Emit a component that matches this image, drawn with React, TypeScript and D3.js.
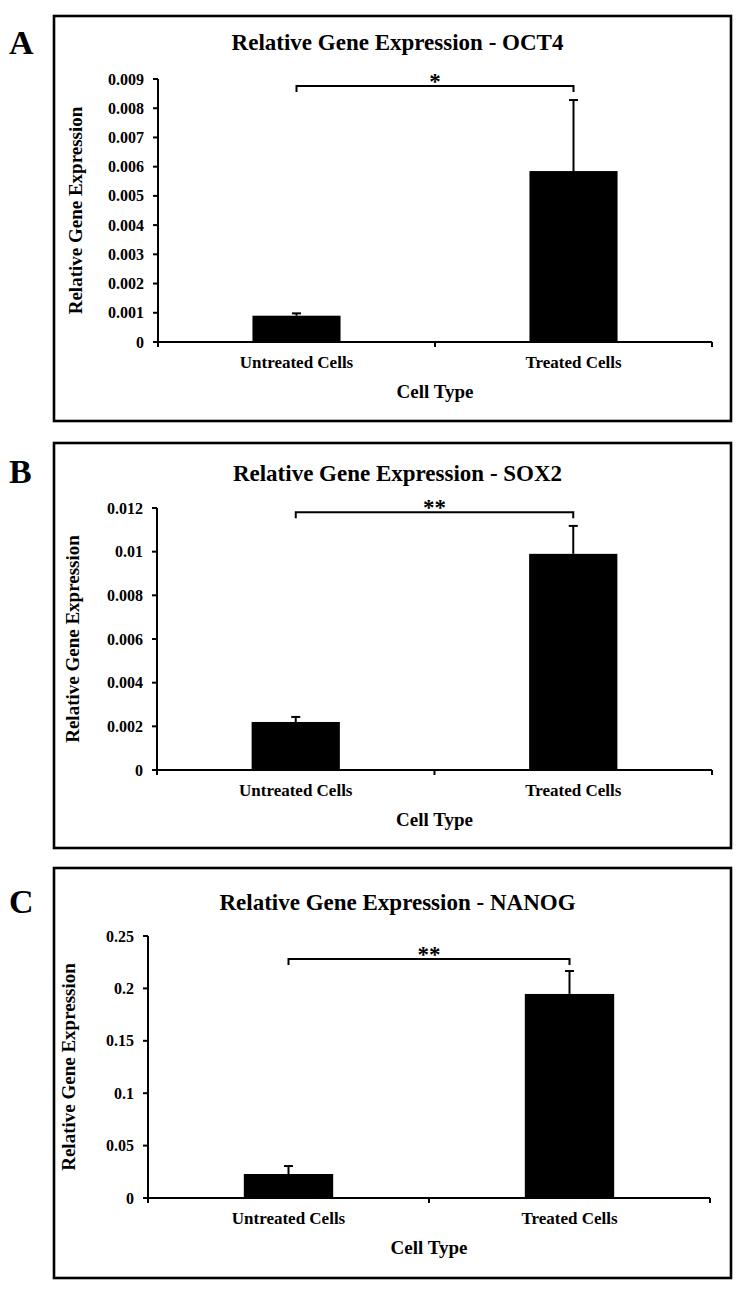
import React from "react";
import * as d3 from "d3";

// ---------- data ----------
const categories = ["Untreated Cells", "Treated Cells"];

const oct4Means = [0.0009, 0.00585];
const oct4Errors = [0.00008, 0.00243];
const oct4Ticks = [0, 0.001, 0.002, 0.003, 0.004, 0.005, 0.006, 0.007, 0.008, 0.009];
const oct4TickLabels = ["0", "0.001", "0.002", "0.003", "0.004", "0.005", "0.006", "0.007", "0.008", "0.009"];

const sox2Means = [0.0022, 0.0099];
const sox2Errors = [0.00023, 0.00128];
const sox2Ticks = [0, 0.002, 0.004, 0.006, 0.008, 0.01, 0.012];
const sox2TickLabels = ["0", "0.002", "0.004", "0.006", "0.008", "0.01", "0.012"];

const nanogMeans = [0.0229, 0.1947];
const nanogErrors = [0.0076, 0.0219];
const nanogTicks = [0, 0.05, 0.1, 0.15, 0.2, 0.25];
const nanogTickLabels = ["0", "0.05", "0.1", "0.15", "0.2", "0.25"];

const panelLetters = ["A", "B", "C"];
const panelTitles = [
  "Relative Gene Expression - OCT4",
  "Relative Gene Expression - SOX2",
  "Relative Gene Expression - NANOG",
];
const significance = ["*", "**", "**"];
const bracketLevels = [0.00876, 0.0118, 0.228];
const yLabel = "Relative Gene Expression";
const xLabel = "Cell Type";

// ---------- layout (pixels) ----------
const layouts = [
  { top: 16, bottom: 421, titleY: 50, letterY: 54, axisX: 158, axisRight: 712, yTop: 79, yZero: 342, yLabelX: 75 },
  { top: 443, bottom: 848, titleY: 481, letterY: 483, axisX: 157, axisRight: 712, yTop: 508, yZero: 770, yLabelX: 72 },
  { top: 868, bottom: 1278, titleY: 910, letterY: 913, axisX: 148, axisRight: 710, yTop: 936, yZero: 1198, yLabelX: 68 },
];
const boxLeft = 54;
const boxRight = 731;
const FONT = "'Liberation Serif', 'Times New Roman', serif";

type PanelProps = {
  idx: number;
  means: number[];
  errors: number[];
  ticks: number[];
  tickLabels: string[];
};

function Panel({ idx, means, errors, ticks, tickLabels }: PanelProps) {
  const L = layouts[idx];
  const yMax = ticks[ticks.length - 1];
  const y = d3.scaleLinear().domain([0, yMax]).range([L.yZero, L.yTop]);
  const x = d3.scaleBand<string>().domain(categories).range([L.axisX, L.axisRight]).padding(0);
  const barW = x.bandwidth() * 0.318;
  const cx = (c: string) => (x(c) as number) + x.bandwidth() / 2;
  const bY = y(bracketLevels[idx]);
  const x1 = cx(categories[0]);
  const x2 = cx(categories[1]);
  const boundaries = [L.axisX, ...categories.map((c) => (x(c) as number) + x.bandwidth())];
  return (
    <g>
      <rect
        x={boxLeft}
        y={L.top}
        width={boxRight - boxLeft}
        height={L.bottom - L.top}
        fill="none"
        stroke="#000"
        strokeWidth={2.6}
      />
      <text x={9} y={L.letterY} fontFamily={FONT} fontWeight="bold" fontSize={34} fill="#000">
        {panelLetters[idx]}
      </text>
      <text
        x={(boxLeft + boxRight) / 2 + 5}
        y={L.titleY}
        textAnchor="middle"
        fontFamily={FONT}
        fontWeight="bold"
        fontSize={23}
        fill="#000"
      >
        {panelTitles[idx]}
      </text>
      {/* bars */}
      {categories.map((c, i) => (
        <rect key={c} x={cx(c) - barW / 2} y={y(means[i])} width={barW} height={L.yZero - y(means[i])} fill="#000" />
      ))}
      {/* error bars */}
      {categories.map((c, i) => (
        <g key={"e" + c} stroke="#000" strokeWidth={2}>
          <line x1={cx(c)} x2={cx(c)} y1={y(means[i])} y2={y(means[i] + errors[i])} />
          <line x1={cx(c) - 4.5} x2={cx(c) + 4.5} y1={y(means[i] + errors[i])} y2={y(means[i] + errors[i])} />
        </g>
      ))}
      {/* y axis */}
      <line x1={L.axisX} x2={L.axisX} y1={L.yTop} y2={L.yZero} stroke="#000" strokeWidth={2} />
      {ticks.map((t, i) => (
        <g key={"t" + i}>
          <line x1={L.axisX - 5} x2={L.axisX} y1={y(t)} y2={y(t)} stroke="#000" strokeWidth={2} />
          <text
            x={L.axisX - 14}
            y={y(t)}
            dy="0.35em"
            textAnchor="end"
            fontFamily={FONT}
            fontWeight="bold"
            fontSize={16}
            fill="#000"
          >
            {tickLabels[i]}
          </text>
        </g>
      ))}
      {/* x axis */}
      <line x1={L.axisX} x2={L.axisRight} y1={L.yZero} y2={L.yZero} stroke="#000" strokeWidth={2} />
      {boundaries.map((b, i) => (
        <line key={"b" + i} x1={b} x2={b} y1={L.yZero} y2={L.yZero + 5} stroke="#000" strokeWidth={2} />
      ))}
      {categories.map((c) => (
        <text
          key={"l" + c}
          x={cx(c)}
          y={L.yZero + 26}
          textAnchor="middle"
          fontFamily={FONT}
          fontWeight="bold"
          fontSize={17}
          fill="#000"
        >
          {c}
        </text>
      ))}
      <text
        x={(L.axisX + L.axisRight) / 2}
        y={L.yZero + 56}
        textAnchor="middle"
        fontFamily={FONT}
        fontWeight="bold"
        fontSize={19}
        fill="#000"
      >
        {xLabel}
      </text>
      <text
        transform={`translate(${L.yLabelX},${(L.yTop + L.yZero) / 2}) rotate(-90)`}
        textAnchor="middle"
        dy="0.35em"
        fontFamily={FONT}
        fontWeight="bold"
        fontSize={19}
        fill="#000"
      >
        {yLabel}
      </text>
      {/* significance bracket */}
      <path
        d={`M${x1},${bY + 6}V${bY}H${x2}V${bY + 6}`}
        fill="none"
        stroke="#000"
        strokeWidth={2}
      />
      <text
        x={(x1 + x2) / 2}
        y={bY + 3}
        textAnchor="middle"
        fontFamily={FONT}
        fontWeight="bold"
        fontSize={23}
        fill="#000"
      >
        {significance[idx]}
      </text>
    </g>
  );
}

export default function App() {
  return (
    <svg
      width={742}
      height={1291}
      style={{ position: "absolute", left: 0, top: 0, background: "#fff" }}
    >
      <rect x={0} y={0} width={742} height={1291} fill="#fff" />
      <Panel idx={0} means={oct4Means} errors={oct4Errors} ticks={oct4Ticks} tickLabels={oct4TickLabels} />
      <Panel idx={1} means={sox2Means} errors={sox2Errors} ticks={sox2Ticks} tickLabels={sox2TickLabels} />
      <Panel idx={2} means={nanogMeans} errors={nanogErrors} ticks={nanogTicks} tickLabels={nanogTickLabels} />
    </svg>
  );
}
